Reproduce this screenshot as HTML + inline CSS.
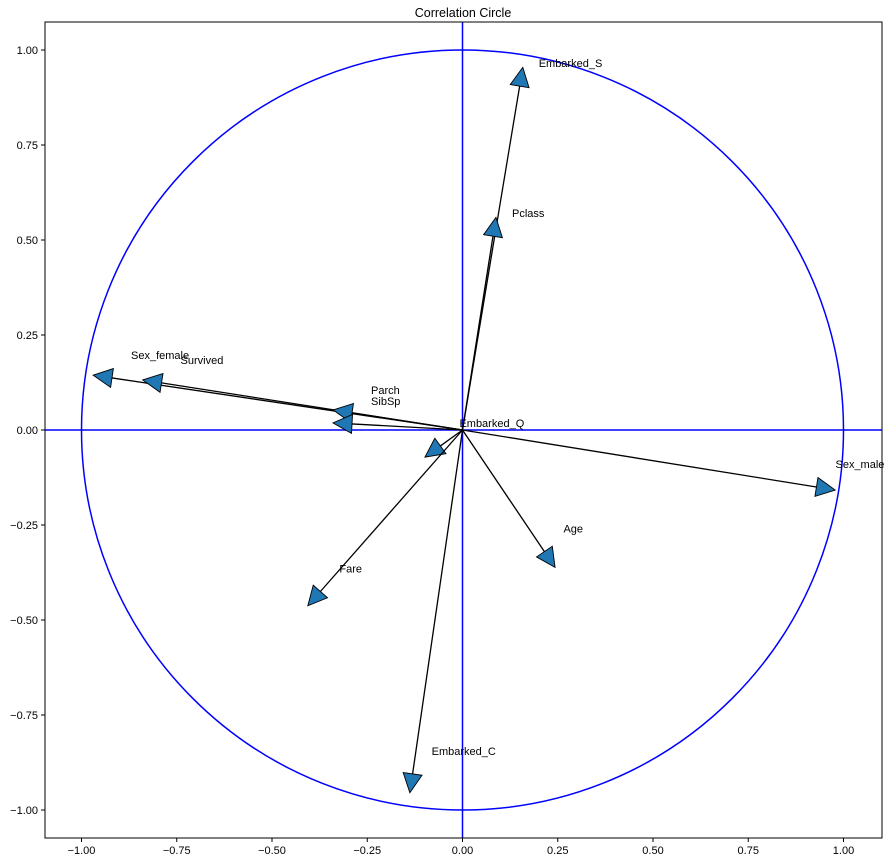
<!DOCTYPE html>
<html><head><meta charset="utf-8"><style>
html,body{margin:0;padding:0;background:#fff;}
svg{display:block;font-family:"Liberation Sans","DejaVu Sans",sans-serif;}
</style></head><body>
<svg id="chart" width="889" height="862"></svg>
<script>
const labels=["Embarked_S","Pclass","Sex_female","Survived","Parch","SibSp","Embarked_Q","Sex_male","Age","Fare","Embarked_C"];
const xs=[0.15,0.08,-0.92,-0.79,-0.29,-0.29,-0.058,0.929,0.215,-0.373,-0.131];
const ys=[0.905,0.51,0.137,0.124,0.045,0.016,-0.042,-0.15,-0.32,-0.425,-0.905];
const ticks=[-1.0,-0.75,-0.5,-0.25,0,0.25,0.5,0.75,1.0];
const L=45,R=882,T=22,B=838;
const X0=462.5,SX=381,Y0=430,SY=380;
const sx=v=>X0+v*SX, sy=v=>Y0-v*SY;
const NS="http://www.w3.org/2000/svg";
const svg=document.getElementById('chart');
function mk(tag,attrs,parent){const e=document.createElementNS(NS,tag);for(const k in attrs)e.setAttribute(k,attrs[k]);(parent||svg).appendChild(e);return e;}
let t=mk('text',{x:463,y:17,'text-anchor':'middle','font-size':12.5,fill:'#000'});t.textContent='Correlation Circle';


const defs=mk('defs',{});const cp=mk('clipPath',{id:'cp'},defs);mk('rect',{x:L,y:T,width:R-L,height:B-T},cp);
const g=mk('g',{'clip-path':'url(#cp)'});


let c=mk('ellipse',{cx:sx(0),cy:sy(0),rx:SX,ry:SY,fill:'none',stroke:'#0000ff','stroke-width':1.5},g);


let h=mk('line',{x1:L,x2:R,y1:sy(0),y2:sy(0),stroke:'#0000ff','stroke-width':1.5},g);


let v=mk('line',{x1:sx(0),x2:sx(0),y1:T,y2:B,stroke:'#0000ff','stroke-width':1.5},g);


for(let i=0;i<labels.length;i++){
  const ag=mk('g',{},g);
  
  
  const x1=sx(xs[i]),y1=sy(ys[i]);
  mk('line',{x1:sx(0),y1:sy(0),x2:x1,y2:y1,stroke:'#000','stroke-width':1.3},ag);
  const dx=x1-sx(0),dy=y1-sy(0),len=Math.hypot(dx,dy),ux=dx/len,uy=dy/len;
  const hl=0.05*SX,hw=0.025*SX;
  const tx=x1+ux*hl,ty=y1+uy*hl;
  const px=-uy,py=ux;
  mk('polygon',{points:`${tx},${ty} ${x1+px*hw},${y1+py*hw} ${x1-px*hw},${y1-py*hw}`,fill:'#1f77b4',stroke:'#000','stroke-width':0.9},ag);
  const lt=mk('text',{x:sx(xs[i]+0.05),y:sy(ys[i]+0.05),'font-size':11,fill:'#000'});
  lt.textContent=labels[i];
  
  
}
let fr=mk('rect',{x:L,y:T,width:R-L,height:B-T,fill:'none',stroke:'#000','stroke-width':1});


const fmt=v=>(v<0?'\u2212':'')+Math.abs(v).toFixed(2);
for(const tv of ticks){
  const px=sx(tv);
  mk('line',{x1:px,x2:px,y1:B,y2:B+4,stroke:'#000'});
  const a=mk('text',{x:px,y:B+16,'text-anchor':'middle','font-size':11,fill:'#000'});
  a.textContent=fmt(tv);
  
  
  const py=sy(tv);
  mk('line',{x1:L-4,x2:L,y1:py,y2:py,stroke:'#000'});
  const b=mk('text',{x:L-7,y:py+4,'text-anchor':'end','font-size':11,fill:'#000'});
  b.textContent=fmt(tv);
  
  
}
</script>
</body></html>
